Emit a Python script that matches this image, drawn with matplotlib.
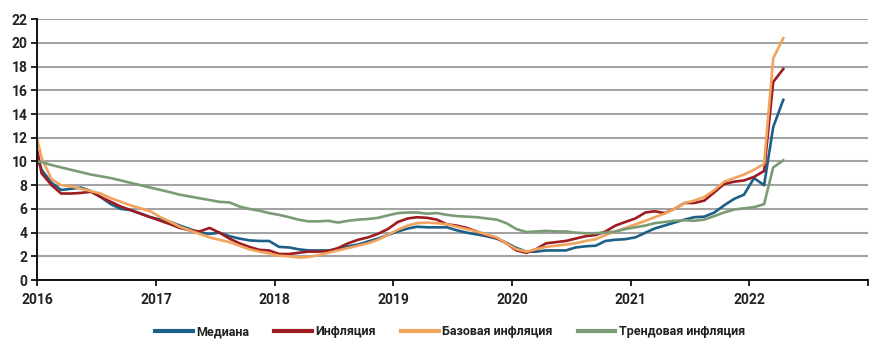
import matplotlib
matplotlib.use("Agg")
import matplotlib.pyplot as plt
import pandas as pd
from matplotlib import font_manager

names = {f.name for f in font_manager.fontManager.ttflist}
base_font = "Liberation Sans Narrow" if "Liberation Sans Narrow" in names else "Roboto"
plt.rcParams['font.family'] = [base_font, 'DejaVu Sans']

# Monthly observations, Dec 2015 .. Apr 2022 (plotted at mid-month)
dates = pd.date_range("2015-12-01", "2022-04-01", freq="MS") + pd.Timedelta(days=14)

median = [11.8, 9.3, 8.2, 7.6, 7.7, 7.8, 7.5, 7.0, 6.4, 6.0, 5.9, 5.6, 5.3,
          5.1, 4.9, 4.6, 4.3, 4.0, 3.9, 4.0, 3.7, 3.5, 3.35, 3.3, 3.3,
          2.8, 2.75, 2.6, 2.5, 2.5, 2.5, 2.6, 2.85, 3.0, 3.25, 3.5, 3.8,
          4.1, 4.35, 4.5, 4.45, 4.45, 4.45, 4.2, 4.0, 3.85, 3.7, 3.5, 3.15,
          2.7, 2.4, 2.4, 2.5, 2.5, 2.5, 2.75, 2.85, 2.9, 3.3, 3.4, 3.45,
          3.6, 4.0, 4.35, 4.6, 4.85, 5.1, 5.3, 5.35, 5.7, 6.3, 6.85, 7.2,
          8.6, 8.0, 12.9, 15.2]

inflation = [13.5, 9.0, 8.0, 7.3, 7.3, 7.35, 7.45, 7.0, 6.6, 6.2, 5.9, 5.6, 5.3,
             5.0, 4.7, 4.4, 4.2, 4.1, 4.4, 4.0, 3.5, 3.1, 2.8, 2.55, 2.5,
             2.2, 2.2, 2.3, 2.4, 2.4, 2.45, 2.7, 3.1, 3.4, 3.6, 3.9, 4.3,
             4.9, 5.2, 5.3, 5.25, 5.1, 4.7, 4.6, 4.4, 4.1, 3.8, 3.55, 3.1,
             2.5, 2.3, 2.6, 3.1, 3.2, 3.3, 3.5, 3.7, 3.8, 4.1, 4.6, 4.9,
             5.2, 5.7, 5.8, 5.65, 6.0, 6.5, 6.5, 6.7, 7.4, 8.1, 8.3, 8.4,
             8.7, 9.2, 16.7, 17.8]

core = [14.0, 10.3, 8.5, 8.0, 7.9, 7.7, 7.5, 7.3, 6.9, 6.6, 6.3, 6.05, 5.8,
        5.3, 4.9, 4.5, 4.2, 3.9, 3.6, 3.4, 3.2, 2.9, 2.6, 2.4, 2.25,
        2.05, 2.0, 1.9, 1.95, 2.1, 2.3, 2.5, 2.7, 2.9, 3.1, 3.4, 3.8,
        4.25, 4.6, 4.8, 4.85, 4.8, 4.7, 4.5, 4.3, 4.1, 3.85, 3.6, 3.1,
        2.6, 2.4, 2.6, 2.8, 2.9, 3.0, 3.1, 3.3, 3.45, 3.8, 4.1, 4.4,
        4.7, 5.0, 5.3, 5.6, 6.0, 6.5, 6.7, 7.0, 7.6, 8.3, 8.6, 8.9,
        9.3, 9.8, 18.7, 20.4]

trend = [10.1, 9.95, 9.7, 9.5, 9.3, 9.1, 8.9, 8.75, 8.6, 8.4, 8.2, 8.0, 7.8,
         7.6, 7.4, 7.2, 7.05, 6.9, 6.75, 6.6, 6.55, 6.2, 6.0, 5.85, 5.65,
         5.5, 5.3, 5.1, 4.95, 4.95, 5.0, 4.85, 5.0, 5.1, 5.15, 5.25, 5.45,
         5.65, 5.7, 5.7, 5.6, 5.65, 5.5, 5.4, 5.35, 5.3, 5.2, 5.1, 4.8,
         4.3, 4.05, 4.1, 4.15, 4.1, 4.1, 4.0, 3.95, 3.95, 4.0, 4.1, 4.3,
         4.45, 4.6, 4.8, 4.9, 5.0, 5.05, 5.0, 5.1, 5.4, 5.7, 5.95, 6.05,
         6.15, 6.4, 9.5, 10.1]

labels = ["Медиана", "Инфляция", "Базовая инфляция", "Трендовая инфляция"]
colors = ["#1c5f87", "#9c1c22", "#f0a45e", "#7b9b76"]
year_ticks = [2016, 2017, 2018, 2019, 2020, 2021, 2022, 2023]
y_ticks = list(range(0, 23, 2))

fig = plt.figure(figsize=(8.86, 3.55), dpi=100)
ax = fig.add_axes([0.0418, 0.211, 0.938, 0.735])

series = [median, inflation, core, trend]
order = [3, 0, 2, 1]
for i in order:
    ax.plot(dates, series[i], color=colors[i], lw=1.9, label=labels[i],
            solid_joinstyle="round", zorder=3 + i)

ax.set_xlim(pd.Timestamp("2016-01-01"), pd.Timestamp("2023-01-01"))
ax.set_ylim(0, 22)
ax.set_yticks(y_ticks)
ax.set_yticklabels([str(v) for v in y_ticks], fontsize=10, fontweight="bold",
                   color="#222222")
xt = [pd.Timestamp(f"{y}-01-01") for y in year_ticks]
ax.set_xticks(xt)
ax.set_xticklabels([str(y) if y < 2023 else "" for y in year_ticks],
                   fontsize=10, fontweight="bold", color="#222222")
ax.grid(axis="y", color="#a3a3a3", lw=1.5, zorder=1)
ax.set_axisbelow(True)
for s in ["top", "right"]:
    ax.spines[s].set_visible(False)
for s in ["left", "bottom"]:
    ax.spines[s].set_linewidth(1.4)
    ax.spines[s].set_color("#111111")
    ax.spines[s].set_zorder(10)
ax.tick_params(axis="y", length=4, width=1.2, pad=3)
ax.tick_params(axis="x", length=4, width=1.2, pad=5)

handles, labs = ax.get_legend_handles_labels()
hmap = dict(zip(labs, handles))
leg = fig.legend([hmap[l] for l in labels], labels, loc="center",
                 bbox_to_anchor=(0.508, 0.065), ncol=4, frameon=False,
                 handlelength=3.0, handletextpad=0.3, columnspacing=2.0,
                 prop={"size": 9, "weight": "bold"})
for t in leg.get_texts():
    t.set_color("#222222")
for h in leg.get_lines():
    h.set_linewidth(3)

fig.savefig("out.png", dpi=100)
